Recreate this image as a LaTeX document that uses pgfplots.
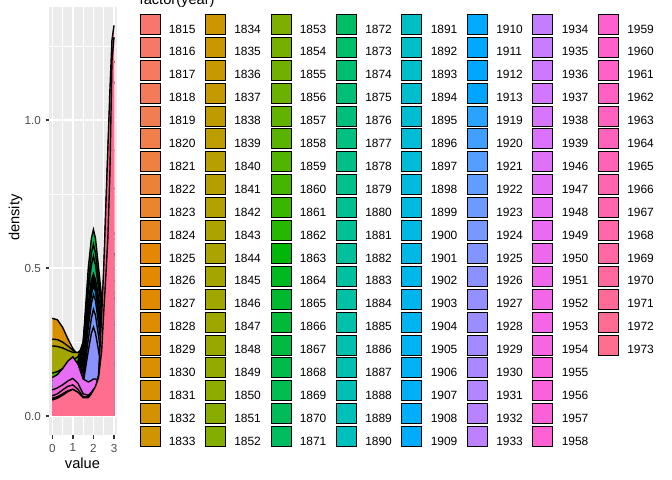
\documentclass[border=0pt]{standalone}
\usepackage{pgfplots}
\pgfplotsset{compat=1.18}
\usepackage{pgfplotstable}
\usepackage{fontspec}
\setmainfont{Liberation Sans}

\definecolor{panelgrey}{HTML}{EBEBEB}
\definecolor{grey20}{HTML}{333333}
\definecolor{grey30}{HTML}{4D4D4D}

% ggplot2-like hue palette (hcl, l=65, c=100)
\newcommand\gammafix[2]{%
  \pgfmathsetmacro#2{min(1,max(0,#1))}%
  \pgfmathsetmacro#2{(#2<=0.0031308)*12.92*#2+(#2>0.0031308)*(1.055*max(#2,0.0031309)^(1/2.4)-0.055)}%
}
\pgfplotsforeachungrouped \i in {0,...,147}{%
  \pgfmathsetmacro\hh{15+\i*2.3529412}%
  \pgfmathsetmacro\uu{cos(\hh)*0.1183432+0.1978398}%
  \pgfmathsetmacro\vv{sin(\hh)*0.1183432+0.4683363}%
  \pgfmathsetmacro\XX{0.340457*9*\uu/(4*\vv)}%
  \pgfmathsetmacro\ZZ{0.340457*(12-3*\uu-20*\vv)/(4*\vv)}%
  \pgfmathsetmacro\rl{3.2404542*\XX-1.5371385*0.340457-0.4985314*\ZZ}%
  \pgfmathsetmacro\gl{-0.9692660*\XX+1.8760108*0.340457+0.0415560*\ZZ}%
  \pgfmathsetmacro\bl{0.0556434*\XX-0.2040259*0.340457+1.0572252*\ZZ}%
  \gammafix\rl\cR
  \gammafix\gl\cG
  \gammafix\bl\cB
  \edef\tmp{\noexpand\definecolor{pal\i}{rgb}{\cR,\cG,\cB}}\tmp
}

% year of each level
\newcount\legi
\legi=0
\newcommand\regyr[1]{\expandafter\xdef\csname yrof\the\legi\endcsname{#1}\global\advance\legi by 1 }
\pgfplotsforeachungrouped \yr in {1815,...,1913}{\regyr{\yr}}
\pgfplotsforeachungrouped \yr in {1919,...,1939}{\regyr{\yr}}
\pgfplotsforeachungrouped \yr in {1946,...,1973}{\regyr{\yr}}

\pgfplotstableread{
x    C1   C2   C3   C4   C5   C6   C7   T1   T2   T3   T4   AZ   LB   L2   L3   M1   M2   M3   R1   R2   R3   P
0    .33  .26  .237 .145 .12  .10  .08  .06  .06  .05  .05  .05  .04  .035 .03  .13  .088 .068 .06  .058 .056 .054
0.25 .325 .258 .235 .15  .125 .10  .085 .06  .06  .05  .05  .05  .04  .035 .03  .14  .095 .075 .065 .063 .061 .06
0.5  .30  .25  .23  .16  .135 .11  .095 .07  .065 .06  .055 .055 .045 .04  .035 .16  .105 .088 .075 .072 .07  .07
0.75 .262 .237 .222 .175 .15  .13  .11  .09  .08  .07  .065 .065 .055 .05  .045 .185 .118 .10  .085 .083 .082 .082
1    .228 .222 .215 .19  .165 .15  .13  .11  .10  .09  .085 .08  .07  .06  .055 .20  .127 .105 .09  .088 .088 .09
1.25 .205 .21  .215 .20  .185 .17  .155 .14  .13  .12  .11  .10  .09  .08  .07  .175 .11  .09  .08  .078 .078 .08
1.5  .19  .20  .23  .25  .25  .24  .23  .22  .20  .19  .18  .16  .14  .12  .11  .125 .075 .065 .06  .06  .06  .062
1.75 .20  .25  .30  .42  .50  .45  .42  .38  .36  .35  .34  .32  .30  .26  .22  .115 .07  .065 .06  .06  .061 .062
1.9  .22  .30  .36  .54  .60  .55  .51  .46  .44  .43  .425 .41  .38  .33  .28  .12  .08  .075 .07  .07  .072 .075
2    .23  .32  .38  .58  .63  .58  .54  .48  .47  .46  .45  .44  .41  .36  .30  .125 .09  .085 .08  .08  .082 .088
2.1  .23  .30  .36  .55  .60  .55  .51  .46  .45  .44  .43  .42  .39  .34  .28  .125 .095 .09  .09  .09  .093 .10
2.25 .22  .27  .31  .45  .50  .46  .43  .40  .38  .37  .35  .34  .31  .27  .22  .12  .11  .11  .13  .13  .14  .13
2.4  .24  .30  .27  .34  .40  .38  .37  .35  .33  .30  .27  .26  .23  .19  .16  .12  .20  .25  .28  .30  .34  .22
2.5  .30  .42  .28  .29  .34  .35  .38  .36  .34  .29  .24  .24  .21  .17  .13  .15  .33  .40  .45  .47  .50  .35
2.6  .38  .55  .32  .28  .31  .38  .43  .41  .39  .32  .25  .27  .24  .19  .13  .22  .50  .58  .65  .68  .70  .47
2.7  .46  .66  .37  .29  .30  .43  .50  .47  .45  .35  .27  .32  .29  .23  .14  .32  .64  .74  .85  .88  .90  .60
2.8  .53  .73  .41  .31  .31  .47  .55  .51  .50  .38  .29  .37  .34  .27  .16  .42  .73  .84  1.00 1.05 1.10 .82
2.9  .59  .76  .44  .32  .32  .49  .59  .54  .52  .39  .30  .40  .38  .30  .17  .50  .77  .89  1.10 1.17 1.27 1.20
3    .62  .77  .46  .33  .32  .50  .60  .55  .53  .40  .31  .42  .40  .31  .18  .55  .77  .90  1.13 1.20 1.32 1.28
}\dens

\newcommand\dcurve[2]{%
  \addplot[fill=pal#2, draw=none, forget plot] table[x=x,y=#1]{\dens} \closedcycle;
  \addplot[black, line width=1.4bp, forget plot] table[x=x,y=#1]{\dens};
}

\begin{document}
\begin{tikzpicture}[x=1bp,y=1bp]
\begin{axis}[
  at={(49.2bp,44.5bp)}, anchor=south west,
  scale only axis, width=67.9bp, height=428.8bp,
  xmin=-0.15, xmax=3.15, ymin=-0.0659, ymax=1.383,
  axis background/.style={fill=panelgrey},
  axis line style={draw=none},
  grid=both,
  major grid style={white, line width=1.42bp},
  minor grid style={white, line width=0.71bp},
  xtick={0,1,2,3}, xticklabels={0,1,2,3},
  minor xtick={0.5,1.5,2.5},
  ytick={0,0.5,1}, yticklabels={0.0,0.5,1.0},
  minor ytick={0.25,0.75,1.25},
  tick align=outside, tick pos=left,
  major tick length=3.67bp, minor tick length=0pt,
  major tick style={color=grey20, line width=1.42bp},
  ticklabel style={font=\fontsize{11.7}{12}\selectfont, text=grey30, inner sep=0pt},
  yticklabel style={anchor=east, xshift=-4.5bp},
  xticklabel style={anchor=north, yshift=-4.5bp},
  xlabel={value}, ylabel={density},
  label style={font=\fontsize{14.7}{16}\selectfont},
  xlabel style={at={(axis description cs:0.49,-0.0758)}, anchor=base},
  ylabel style={at={(axis description cs:-0.496,0.508)}, anchor=center, rotate=0},
  legend style={
    at={(axis description cs:1.330,0.983)}, anchor=north west,
    draw=none, fill=none, inner sep=0pt, outer sep=0pt,
    font=\fontsize{12}{12}\selectfont,
    row sep=1.9bp,
    nodes={inner sep=0pt, outer sep=0pt},
    /tikz/every odd column/.append style={column sep=8.3bp},
    /tikz/every even column/.append style={column sep=9.6bp},
  },
  legend cell align=left,
  legend columns=8,
  legend image code/.code={\draw[#1, line width=1bp] (0bp,-4.9bp) rectangle (20bp,15.1bp);},
]
\dcurve{C1}{15}
\dcurve{C2}{25}
\dcurve{C3}{31}
\dcurve{C4}{45}
\dcurve{C5}{51}
\dcurve{C6}{53}
\dcurve{C7}{56}
\dcurve{T1}{64}
\dcurve{T2}{72}
\dcurve{T3}{80}
\dcurve{T4}{88}
\dcurve{AZ}{95}
\dcurve{LB}{102}
\dcurve{L2}{104}
\dcurve{L3}{106}
\dcurve{M1}{122}
\dcurve{M2}{130}
\dcurve{M3}{137}
\dcurve{R1}{141}
\dcurve{R2}{143}
\dcurve{R3}{145}
\dcurve{P}{147}
% legend: 19 rows x 8 columns, filled column by column
\pgfplotsforeachungrouped \j in {0,...,151}{%
  \pgfmathtruncatemacro\rr{floor(\j/8)}%
  \pgfmathtruncatemacro\cc{\j-8*\rr}%
  \pgfmathtruncatemacro\kk{\cc*19+\rr}%
  \ifnum\kk<148
    \edef\tmp{\noexpand\addlegendimage{fill=pal\kk, draw=black}\noexpand\addlegendentry{\csname yrof\kk\endcsname}}%
  \else
    \edef\tmp{\noexpand\addlegendimage{empty legend}\noexpand\addlegendentry{}}%
  \fi
  \tmp
}
\end{axis}
\node[anchor=base west, font=\fontsize{14.7}{16}\selectfont, inner sep=0pt] at (139.5,475) {factor(year)};
\pgfresetboundingbox
\useasboundingbox (0,0) rectangle (672,480);
\end{tikzpicture}
\end{document}
